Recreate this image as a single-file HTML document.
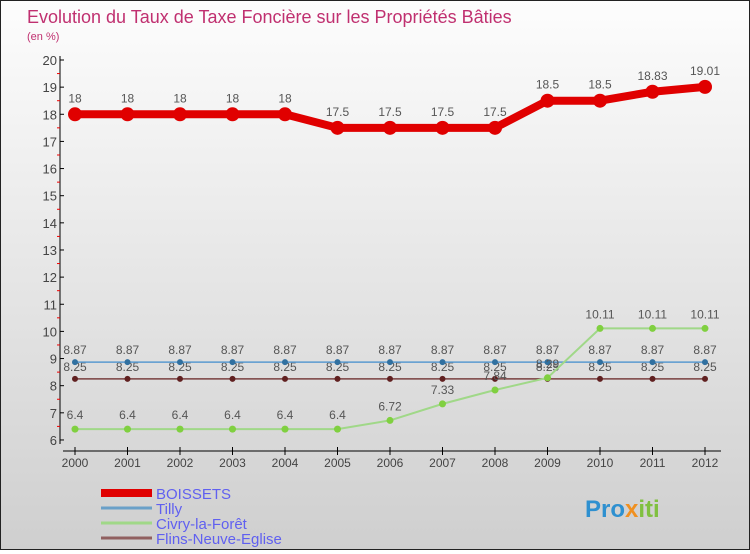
<!DOCTYPE html>
<html><head><meta charset="utf-8"><style>
body{margin:0}
#c{width:748px;height:548px;border:1px solid #222;background:linear-gradient(#fdfdfd,#cfcfcf);position:relative;font-family:"Liberation Sans",sans-serif}
</style></head><body>
<div id="c">
<svg id="s" width="748" height="548"></svg>
</div>
<script>
const years=[2000,2001,2002,2003,2004,2005,2006,2007,2008,2009,2010,2011,2012];
const boissets=[18,18,18,18,18,17.5,17.5,17.5,17.5,18.5,18.5,18.83,19.01];
const tilly=[8.87,8.87,8.87,8.87,8.87,8.87,8.87,8.87,8.87,8.87,8.87,8.87,8.87];
const civry=[6.4,6.4,6.4,6.4,6.4,6.4,6.72,7.33,7.84,8.29,10.11,10.11,10.11];
const flins=[8.25,8.25,8.25,8.25,8.25,8.25,8.25,8.25,8.25,8.25,8.25,8.25,8.25];
const yTicks=[6,7,8,9,10,11,12,13,14,15,16,17,18,19,20];
const names=["BOISSETS","Tilly","Civry-la-Forêt","Flins-Neuve-Eglise"];
const NS="http://www.w3.org/2000/svg",s=document.getElementById('s');
const X=i=>74+i*52.5, Y=v=>59+(20-v)*27.14;
function el(t,a,p){const e=document.createElementNS(NS,t);for(const k in a)e.setAttribute(k,a[k]);(p||s).appendChild(e);return e;}
function txt(x,y,str,a,p){const e=el('text',Object.assign({x:x,y:y,'font-size':12,fill:'#444'},a||{}),p);e.textContent=str;return e;}
let t=txt(26,22,"Evolution du Taux de Taxe Foncière sur les Propriétés Bâties",{'font-size':18,fill:'#c03070'});

t=txt(26,39,"(en %)",{'font-size':11,fill:'#c03070'});

let a=el('line',{x1:59,y1:55,x2:59,y2:443,stroke:'#000'});

a=el('line',{x1:62,y1:450,x2:720,y2:450,stroke:'#000'});

yTicks.forEach((v,i)=>{el('line',{x1:59,y1:Y(v),x2:63,y2:Y(v),stroke:'#000'});
 if(i<yTicks.length-1)el('line',{x1:56,y1:Y(v+0.5),x2:59,y2:Y(v+0.5),stroke:'#e00'});
 const l=txt(56,Y(v)+5,String(v),{'text-anchor':'end','font-size':13});
 });
years.forEach((y,i)=>{el('line',{x1:X(i),y1:446,x2:X(i),y2:454,stroke:'#000'});
 const l=txt(X(i),466,String(y),{'text-anchor':'middle'});
 });
function series(d,col,w,r,dot,name,off){
 const g=el('g',{});
 el('polyline',{points:d.map((v,i)=>X(i)+','+Y(v)).join(' '),fill:'none',stroke:col,'stroke-width':w,'stroke-linejoin':'round'},g);
 d.forEach((v,i)=>{const c=el('circle',{cx:X(i),cy:Y(v),r:r,fill:dot},g);
  
  txt(X(i),Y(v)+off,String(v),{'text-anchor':'middle',fill:'#555','font-size':12},g);});
}
series(flins,'#7a4040',1.5,3,'#602020','flins-series',-8);
series(tilly,'#5a9ad0',1.5,3,'#3070a0','tilly-series',-8);
series(civry,'#a0d888',2,3.5,'#80d040','civry-series',-10);
series(boissets,'#e00000',8,7,'#e00000','boissets-series',-12);
const lc=['#e00000','#6aa0c8','#a0d888','#906060'],lw=[8,3,3,3];
names.forEach((n,i)=>{const y=492+i*15;
 const g=el('g',{});
 el('line',{x1:100,y1:y,x2:151,y2:y,stroke:lc[i],'stroke-width':lw[i]},g);
 txt(155,y+6,n,{fill:'#6060f0','font-size':15},g);});
const logo=el('text',{x:584,y:516,'font-size':24,'font-weight':'bold'});


[['Pro','#2e90d0'],['x','#f09020'],['iti','#80c040']].forEach(p=>{const ts=el('tspan',{fill:p[1]},logo);ts.textContent=p[0];});
</script>
</body></html>
